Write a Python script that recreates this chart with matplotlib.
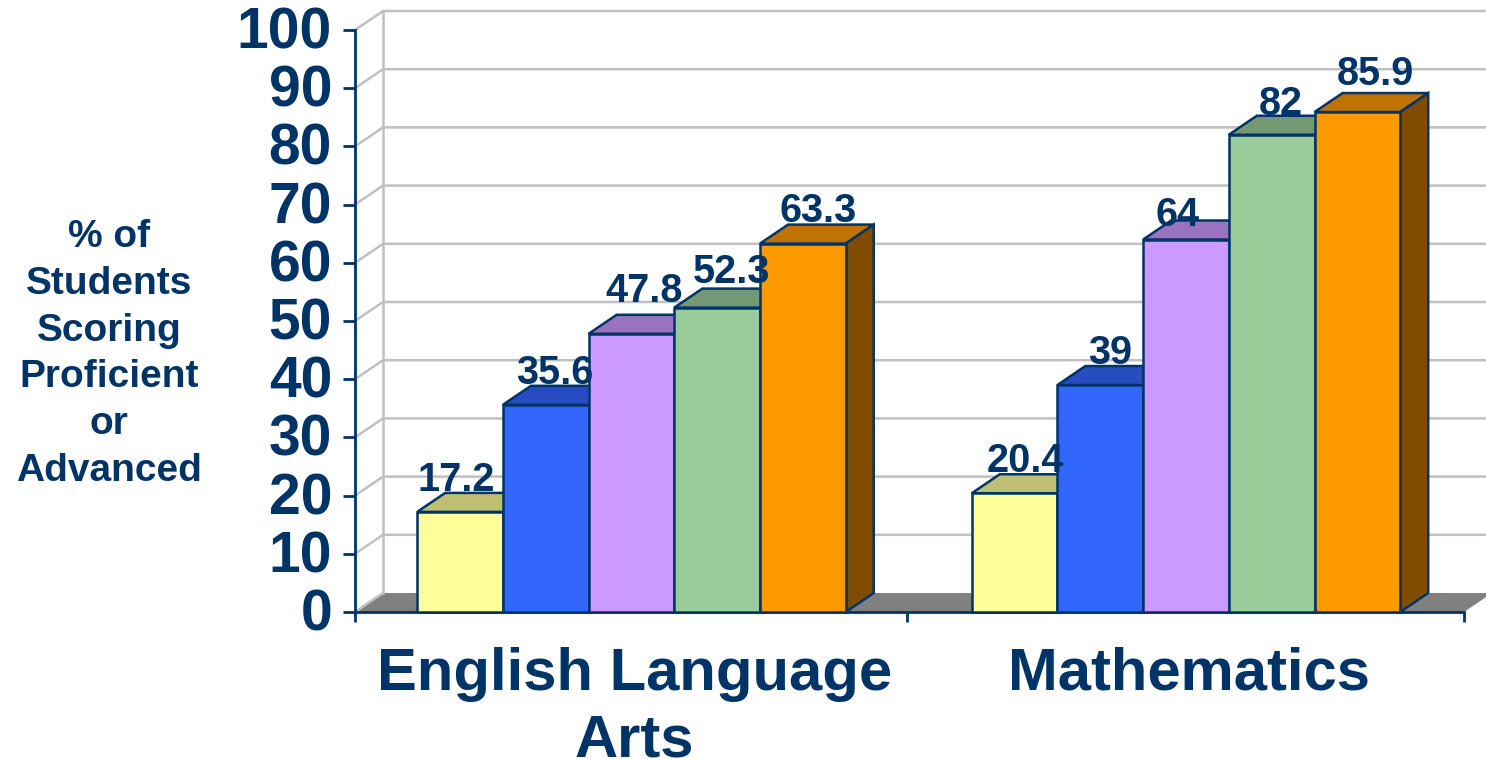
import matplotlib
matplotlib.use("Agg")
import matplotlib.pyplot as plt
from matplotlib.patches import Polygon, Rectangle
from matplotlib.transforms import ScaledTranslation

subjects = ["English Language\nArts", "Mathematics"]
series_colors = ["#FFFF99", "#3366FF", "#CC99FF", "#99CC99", "#FF9900"]
top_colors = ["#BFBF73", "#264CBF", "#9973BF", "#739973", "#BF7300"]
side_colors = ["#80804D", "#1A3380", "#664D80", "#4D664D", "#804D00"]
english = [17.2, 35.6, 47.8, 52.3, 63.3]
math_vals = [20.4, 39, 64, 82, 85.9]
value_text = [["17.2", "35.6", "47.8", "52.3", "63.3"], ["20.4", "39", "64", "82", "85.9"]]
y_ticks = list(range(0, 101, 10))
y_title = "% of\nStudents\nScoring\nProficient\nor\nAdvanced"

# nudges of the hand-placed labels, in px relative to the bar centre / top
label_dx = [[-4, 9, 13, 14, 15], [11, 10, -8, 9, 18]]
label_dy = [[32, 32, 43, 36, 33], [32, 32, 25, 31, 38]]

NAVY = "#003366"
GRID = "#C0C0C0"
W, H = 1486, 759
plt.rcParams["font.family"] = ["Liberation Sans", "DejaVu Sans"]

fig = plt.figure(figsize=(W / 100, H / 100), dpi=100)
ax = fig.add_axes([355 / W, 1 - 612 / H, (1464 - 355) / W, (612 - 30) / H])
ax.set_xlim(0, 2)
ax.set_ylim(0, 100)
ax.patch.set_visible(False)

px_x = 2 / (1464 - 355)
px_y = 100 / (612 - 30)
dx = 28 * px_x
dy = 19 * px_y
bar_w = 85.7 * px_x
group_shift = -0.0014

# floor
ax.add_patch(Polygon([(0, 0), (2, 0), (2 + dx, dy), (dx, dy)], closed=True, fc="#808080", ec="none",
                     clip_on=False, zorder=1))
# walls and gridlines
for t in y_ticks[1:]:
    ax.plot([0, dx, 2 + dx], [t, t + dy, t + dy], color=GRID, lw=1.8, clip_on=False, zorder=1,
            solid_joinstyle="miter")
ax.plot([dx, dx], [dy, 100 + dy], color=GRID, lw=1.8, clip_on=False, zorder=1)
ax.plot([0, dx], [0, dy], color=GRID, lw=1.8, clip_on=False, zorder=1)

# 3D bars
EDGE = 1.8
for g, vals in enumerate([english, math_vals]):
    start = g + 0.5 + group_shift - 2.5 * bar_w
    for i, v in enumerate(vals):
        x0 = start + i * bar_w
        x1 = x0 + bar_w
        z = 3 + i * 0.1
        ax.add_patch(Polygon([(x0, v), (x1, v), (x1 + dx, v + dy), (x0 + dx, v + dy)], closed=True,
                             fc=top_colors[i], ec=NAVY, lw=EDGE, clip_on=False, zorder=z))
        ax.add_patch(Polygon([(x1, 0), (x1 + dx, dy), (x1 + dx, v + dy), (x1, v)], closed=True,
                             fc=side_colors[i], ec=NAVY, lw=EDGE, clip_on=False, zorder=z))
        ax.add_patch(Rectangle((x0, 0), bar_w, v, fc=series_colors[i], ec=NAVY, lw=EDGE,
                               clip_on=False, zorder=z + 0.05))
        off = ScaledTranslation(label_dx[g][i] / 100, label_dy[g][i] / 100, fig.dpi_scale_trans)
        ax.text(x0 + bar_w / 2, v, value_text[g][i], transform=ax.transData + off, ha="center", va="center",
                fontsize=28.5, fontweight="bold", color=NAVY, zorder=10, clip_on=False)

for s in ["top", "right"]:
    ax.spines[s].set_visible(False)
for s in ["left", "bottom"]:
    ax.spines[s].set_color(NAVY)
    ax.spines[s].set_linewidth(2)
    ax.spines[s].set_zorder(2)

ax.set_yticks(y_ticks)
ax.set_yticklabels([str(t) for t in y_ticks], fontsize=41, fontweight="bold", color=NAVY)
ax.tick_params(axis="y", direction="out", length=8.5, width=2, color=NAVY, pad=8)
up = ScaledTranslation(0, 2.5 / 100, fig.dpi_scale_trans)
for lab in ax.get_yticklabels():
    lab.set_transform(lab.get_transform() + up)
ax.set_xticks([0, 0.9955, 2])
ax.set_xticklabels([])
ax.tick_params(axis="x", direction="out", length=7.5, width=2, color=NAVY)
for i, name in enumerate(subjects):
    ax.annotate(name, xy=(i + 0.5, 0), xycoords="data", xytext=(1.5, -25), textcoords="offset points",
                ha="center", va="top", fontsize=43, fontweight="bold", color=NAVY, linespacing=1.27)

fig.text(109 / W, 1 - 354 / H, y_title, ha="center", va="center", fontsize=28, fontweight="bold",
         color=NAVY, linespacing=1.38)

fig.savefig("out.png", dpi=100)
